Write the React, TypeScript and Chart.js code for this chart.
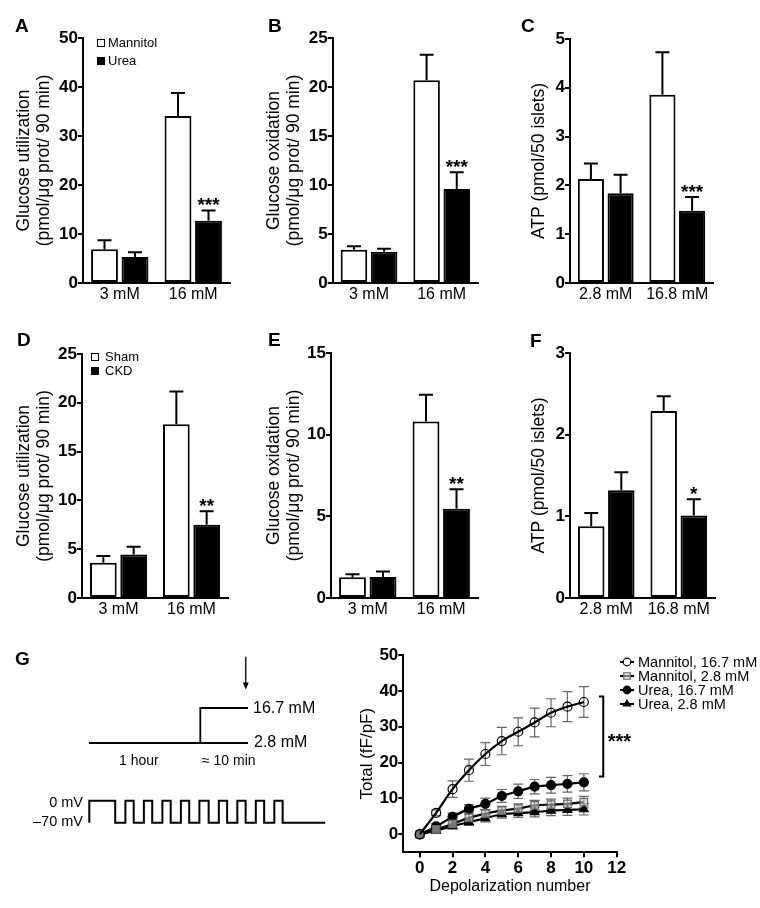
import React, { useEffect, useRef } from 'react';
import { Chart, registerables } from 'chart.js';

Chart.register(...registerables);

const FONT = '"Liberation Sans", Arial, Helvetica, sans-serif';
Chart.defaults.font.family = FONT;
Chart.defaults.color = '#000';

// ---------------- Panels A–F data ----------------
const glucoseCats = ['3 mM', '16 mM'];
const atpCats = ['2.8 mM', '16.8 mM'];

// A
const utilMannitol = [6.9, 34.1];
const utilMannitolErr = [1.8, 4.7];
const utilUrea = [5.3, 12.7];
const utilUreaErr = [1.0, 2.1];
const utilUreaSig = ['', '***'];
// B
const oxMannitol = [3.4, 20.7];
const oxMannitolErr = [0.35, 2.6];
const oxUrea = [3.2, 9.6];
const oxUreaErr = [0.3, 1.7];
const oxUreaSig = ['', '***'];
// C
const atpMannitol = [2.13, 3.86];
const atpMannitolErr = [0.32, 0.87];
const atpUrea = [1.84, 1.48];
const atpUreaErr = [0.38, 0.28];
const atpUreaSig = ['', '***'];
// D
const utilSham = [3.6, 17.8];
const utilShamErr = [0.7, 3.35];
const utilCkd = [4.45, 7.5];
const utilCkdErr = [0.8, 1.4];
const utilCkdSig = ['', '**'];
// E
const oxSham = [1.27, 10.8];
const oxShamErr = [0.18, 1.65];
const oxCkd = [1.29, 5.46];
const oxCkdErr = [0.33, 1.2];
const oxCkdSig = ['', '**'];
// F
const atpSham = [0.88, 2.29];
const atpShamErr = [0.16, 0.18];
const atpCkd = [1.32, 1.01];
const atpCkdErr = [0.22, 0.2];
const atpCkdSig = ['', '*'];

const ticks50 = [0, 10, 20, 30, 40, 50];
const ticks25 = [0, 5, 10, 15, 20, 25];
const ticks5 = [0, 1, 2, 3, 4, 5];
const ticks15 = [0, 5, 10, 15];
const ticks3 = [0, 1, 2, 3];

// ---------------- Panel G kinetics data ----------------
const depolNumber = [0, 1, 2, 3, 4, 5, 6, 7, 8, 9, 10];
const mannitolHigh = [0, 6.0, 12.6, 17.9, 22.4, 26.0, 28.6, 31.2, 33.9, 35.6, 36.9];
const mannitolHighErr = [0, 0.8, 2.3, 3.1, 3.2, 3.8, 3.9, 4.0, 3.9, 4.2, 4.3];
const mannitolLow = [0, 1.4, 2.9, 4.6, 5.8, 6.6, 7.2, 8.1, 8.3, 8.5, 9.0];
const mannitolLowErr = [0, 0.6, 0.9, 1.0, 1.1, 1.2, 1.3, 1.4, 1.5, 1.6, 1.6];
const ureaHigh = [0, 2.2, 4.9, 7.1, 8.5, 10.7, 12.0, 13.3, 13.7, 14.1, 14.5];
const ureaHighErr = [0, 0.8, 1.0, 1.1, 1.6, 1.8, 2.0, 2.0, 2.2, 2.3, 2.4];
const ureaLow = [0, 1.0, 2.3, 3.4, 4.5, 5.6, 5.9, 6.2, 6.6, 6.8, 7.0];
const ureaLowErr = [0, 0.6, 0.8, 0.9, 1.0, 1.1, 1.2, 1.3, 1.4, 1.5, 1.6];
const kinXTicks = [0, 2, 4, 6, 8, 10, 12];
const kinYTicks = [0, 10, 20, 30, 40, 50];
const kinLabels = ['Mannitol, 16.7 mM', 'Mannitol, 2.8 mM', 'Urea, 16.7 mM', 'Urea, 2.8 mM'];
const kinSig = '***';
const kinSigRange = [16.1, 38.4];

// ---------------- Panel G schematic data ----------------
const glucoseLowT = [0, 70];
const glucoseLowC = [2.8, 2.8];
const glucoseHighT = [49, 49, 70];
const glucoseHighC = [2.8, 16.7, 16.7];
const voltageT = [0, 1.4, 1.95, 2.4, 2.95, 3.4, 3.95, 4.4, 4.95, 5.4, 5.95, 6.45, 7.0, 7.45, 8.0, 8.45, 9.0, 9.45, 10.0, 10.45, 11.0, 12.75];
const voltageV = [-70, 0, -70, 0, -70, 0, -70, 0, -70, 0, -70, 0, -70, 0, -70, 0, -70, 0, -70, 0, -70, -70];
const arrowT = 69;
const arrowFromTo = [37, 24];

// ---------------- plugins ----------------
const barErrorPlugin = {
  id: 'barErrors',
  afterDatasetsDraw(chart: any) {
    const { ctx } = chart;
    const yScale = chart.scales.y;
    chart.data.datasets.forEach((ds: any, i: number) => {
      const meta = chart.getDatasetMeta(i);
      meta.data.forEach((bar: any, j: number) => {
        const v = ds.data[j];
        const e = ds.errors ? ds.errors[j] : 0;
        const x = bar.x;
        const y0 = yScale.getPixelForValue(v);
        const y1 = yScale.getPixelForValue(v + e);
        ctx.save();
        ctx.strokeStyle = '#000';
        ctx.lineWidth = 2;
        ctx.beginPath();
        ctx.moveTo(x, y0);
        ctx.lineTo(x, y1);
        ctx.moveTo(x - 7, y1);
        ctx.lineTo(x + 7, y1);
        ctx.stroke();
        const s = ds.sig ? ds.sig[j] : '';
        if (s) {
          ctx.fillStyle = '#000';
          ctx.font = `bold 19px ${FONT}`;
          ctx.textAlign = 'center';
          ctx.textBaseline = 'alphabetic';
          ctx.fillText(s, x, y1 + 1);
        }
        ctx.restore();
      });
    });
  },
};

type Area = { l: number; t: number; r: number; b: number };
type BarPanelProps = {
  left: number;
  top: number;
  width: number;
  height: number;
  area: Area;
  titlePad: number;
  yTitle: string | string[];
  cats: string[];
  ticks: number[];
  white: number[];
  whiteErr: number[];
  black: number[];
  blackErr: number[];
  sig: string[];
};

function BarPanel(p: BarPanelProps) {
  const ref = useRef<HTMLCanvasElement>(null);
  useEffect(() => {
    const chart = new Chart(ref.current as HTMLCanvasElement, {
      type: 'bar',
      data: {
        labels: p.cats,
        datasets: [
          {
            data: p.white,
            errors: p.whiteErr,
            backgroundColor: '#fff',
            borderColor: '#000',
            borderWidth: 2,
            borderSkipped: false,
            categoryPercentage: 0.83,
            barPercentage: 0.88,
          } as any,
          {
            data: p.black,
            errors: p.blackErr,
            sig: p.sig,
            backgroundColor: '#000',
            borderColor: '#000',
            borderWidth: 2,
            borderSkipped: false,
            categoryPercentage: 0.83,
            barPercentage: 0.88,
          } as any,
        ],
      },
      options: {
        responsive: false,
        animation: false,
        devicePixelRatio: 1,
        layout: { padding: { left: 0, top: p.area.t, right: p.width - p.area.r, bottom: 0 } },
        plugins: { legend: { display: false }, tooltip: { enabled: false } },
        scales: {
          x: {
            grid: { drawOnChartArea: false, drawTicks: false, color: '#000' },
            border: { display: true, color: '#000', width: 2 },
            ticks: { font: { family: FONT, size: 16 }, color: '#000', padding: 2.4 },
            afterFit: (s: any) => {
              s.height = p.height - p.area.b;
            },
          },
          y: {
            min: 0,
            max: p.ticks[p.ticks.length - 1],
            afterBuildTicks: (s: any) => {
              s.ticks = p.ticks.map((v) => ({ value: v }));
            },
            grid: { drawOnChartArea: false, drawTicks: true, tickLength: 5, color: '#000', lineWidth: 2 },
            border: { display: true, color: '#000', width: 2 },
            ticks: { font: { family: FONT, size: 17, weight: 'bold' }, color: '#000', padding: 0 },
            title: {
              display: true,
              text: p.yTitle,
              color: '#000',
              font: { family: FONT, size: 17.5, lineHeight: 1.15 },
              padding: { top: p.titlePad, bottom: 0 },
            },
            afterFit: (s: any) => {
              s.width = p.area.l;
            },
          },
        },
      } as any,
      plugins: [barErrorPlugin],
    });
    return () => chart.destroy();
  }, []);
  return (
    <canvas
      ref={ref}
      width={p.width}
      height={p.height}
      style={{ position: 'absolute', left: p.left, top: p.top, width: p.width, height: p.height }}
    />
  );
}

// ---------------- kinetics chart ----------------
const kinSeries = [
  { values: mannitolHigh, errors: mannitolHighErr, style: 'circle', fill: 'rgba(255,255,255,0)', stroke: '#000', r: 4.5 },
  { values: mannitolLow, errors: mannitolLowErr, style: 'rect', fill: 'rgba(200,200,200,0.6)', stroke: '#666', r: 5.3 },
  { values: ureaHigh, errors: ureaHighErr, style: 'circle', fill: '#000', stroke: '#000', r: 4.5 },
  { values: ureaLow, errors: ureaLowErr, style: 'triangle', fill: '#000', stroke: '#000', r: 5 },
];

function drawMarker(ctx: CanvasRenderingContext2D, style: string, x: number, y: number, r: number, fill: string, stroke: string) {
  ctx.save();
  ctx.fillStyle = fill;
  ctx.strokeStyle = stroke;
  ctx.lineWidth = 1.2;
  ctx.beginPath();
  if (style === 'circle') {
    ctx.arc(x, y, r, 0, Math.PI * 2);
  } else if (style === 'rect') {
    const s = r * Math.SQRT1_2;
    ctx.rect(x - s, y - s, 2 * s, 2 * s);
  } else {
    const h = r * 1.5;
    ctx.moveTo(x, y - r);
    ctx.lineTo(x + r * 0.95, y + h - r);
    ctx.lineTo(x - r * 0.95, y + h - r);
    ctx.closePath();
  }
  ctx.fill();
  ctx.stroke();
  ctx.restore();
}

const kinErrorPlugin = {
  id: 'kinErrors',
  beforeDatasetsDraw(chart: any) {
    const { ctx } = chart;
    const xs = chart.scales.x;
    const ys = chart.scales.y;
    ctx.save();
    ctx.strokeStyle = '#666';
    ctx.lineWidth = 1.2;
    chart.data.datasets.forEach((ds: any) => {
      ds.data.forEach((pt: any, j: number) => {
        const e = ds.errors[j];
        if (!e) return;
        const px = xs.getPixelForValue(pt.x);
        const yt = ys.getPixelForValue(pt.y + e);
        const yb = ys.getPixelForValue(pt.y - e);
        ctx.beginPath();
        ctx.moveTo(px, yt);
        ctx.lineTo(px, yb);
        ctx.moveTo(px - 5, yt);
        ctx.lineTo(px + 5, yt);
        ctx.moveTo(px - 5, yb);
        ctx.lineTo(px + 5, yb);
        ctx.stroke();
      });
    });
    ctx.restore();
  },
  afterDraw(chart: any) {
    const { ctx } = chart;
    const xs = chart.scales.x;
    const ys = chart.scales.y;
    // significance bracket
    const bx = xs.getPixelForValue(11.18);
    const bxl = xs.getPixelForValue(10.92);
    const yTop = ys.getPixelForValue(kinSigRange[1]);
    const yBot = ys.getPixelForValue(kinSigRange[0]);
    ctx.save();
    ctx.strokeStyle = '#000';
    ctx.lineWidth = 2;
    ctx.beginPath();
    ctx.moveTo(bxl, yTop);
    ctx.lineTo(bx, yTop);
    ctx.lineTo(bx, yBot);
    ctx.lineTo(bxl, yBot);
    ctx.stroke();
    ctx.fillStyle = '#000';
    ctx.font = `bold 20px ${FONT}`;
    ctx.textAlign = 'left';
    ctx.textBaseline = 'alphabetic';
    ctx.fillText(kinSig, xs.getPixelForValue(11.45), (yTop + yBot) / 2 + 11);
    // legend
    const rows = [22, 36, 50, 64];
    ctx.font = `14.5px ${FONT}`;
    ctx.textBaseline = 'middle';
    kinSeries.forEach((s, i) => {
      const y = rows[i];
      ctx.strokeStyle = '#000';
      ctx.lineWidth = 2;
      ctx.beginPath();
      ctx.moveTo(265, y);
      ctx.lineTo(279, y);
      ctx.stroke();
      drawMarker(ctx, s.style, 272, y, s.style === 'rect' ? 4.6 : 3.8, s.fill === 'rgba(255,255,255,0)' ? '#fff' : s.fill, s.stroke);
      ctx.fillStyle = '#000';
      ctx.fillText(kinLabels[i], 283, y + 0.5);
    });
    ctx.restore();
  },
};

function KineticsChart() {
  const ref = useRef<HTMLCanvasElement>(null);
  const W = 405;
  const H = 268;
  useEffect(() => {
    const chart = new Chart(ref.current as HTMLCanvasElement, {
      type: 'line',
      data: {
        datasets: kinSeries.map((s, i) => ({
          label: kinLabels[i],
          data: depolNumber.map((x, j) => ({ x, y: s.values[j] })),
          errors: s.errors,
          borderColor: '#000',
          borderWidth: 2.2,
          cubicInterpolationMode: 'monotone',
          pointStyle: s.style,
          pointRadius: s.r,
          pointBackgroundColor: s.fill,
          pointBorderColor: s.stroke,
          pointBorderWidth: 1.2,
          clip: false,
        })) as any,
      },
      options: {
        responsive: false,
        animation: false,
        devicePixelRatio: 1,
        layout: { padding: { left: 0, top: 15, right: 143.3, bottom: 0 } },
        plugins: { legend: { display: false }, tooltip: { enabled: false } },
        scales: {
          x: {
            type: 'linear',
            min: -1,
            max: 12,
            afterBuildTicks: (s: any) => {
              s.ticks = kinXTicks.map((v) => ({ value: v }));
            },
            grid: { drawOnChartArea: false, drawTicks: true, tickLength: 5, color: '#000', lineWidth: 2 },
            border: { display: true, color: '#000', width: 2 },
            ticks: { font: { family: FONT, size: 17, weight: 'bold' }, color: '#000', padding: 1 },
            title: {
              display: true,
              text: 'Depolarization number',
              color: '#000',
              font: { family: FONT, size: 16 },
              padding: { top: 0, bottom: 11.4 },
            },
            afterFit: (s: any) => {
              s.height = 55.7;
            },
          },
          y: {
            type: 'linear',
            min: -5,
            max: 50,
            afterBuildTicks: (s: any) => {
              s.ticks = kinYTicks.map((v) => ({ value: v }));
            },
            grid: { drawOnChartArea: false, drawTicks: true, tickLength: 5, color: '#000', lineWidth: 2 },
            border: { display: true, color: '#000', width: 2 },
            ticks: { font: { family: FONT, size: 17, weight: 'bold' }, color: '#000', padding: 0 },
            title: {
              display: true,
              text: 'Total (fF/pF)',
              color: '#000',
              font: { family: FONT, size: 17 },
              padding: { top: 2, bottom: 0 },
            },
            afterFit: (s: any) => {
              s.width = 48.3;
            },
          },
        },
      } as any,
      plugins: [kinErrorPlugin],
    });
    return () => chart.destroy();
  }, []);
  return (
    <canvas ref={ref} width={W} height={H} style={{ position: 'absolute', left: 355, top: 640, width: W, height: H }} />
  );
}

// ---------------- schematic ----------------
const arrowPlugin = {
  id: 'arrow',
  afterDatasetsDraw(chart: any) {
    const { ctx } = chart;
    const x = chart.scales.xG.getPixelForValue(arrowT);
    const y0 = chart.scales.yG.getPixelForValue(arrowFromTo[0]);
    const y1 = chart.scales.yG.getPixelForValue(arrowFromTo[1]);
    ctx.save();
    ctx.strokeStyle = '#000';
    ctx.fillStyle = '#000';
    ctx.lineWidth = 1.3;
    ctx.beginPath();
    ctx.moveTo(x, y0);
    ctx.lineTo(x, y1 - 4);
    ctx.stroke();
    ctx.beginPath();
    ctx.moveTo(x, y1);
    ctx.lineTo(x - 3, y1 - 7);
    ctx.lineTo(x + 3, y1 - 7);
    ctx.closePath();
    ctx.fill();
    ctx.restore();
  },
};

function Schematic() {
  const ref = useRef<HTMLCanvasElement>(null);
  useEffect(() => {
    const line = { borderColor: '#000', borderWidth: 1.8, pointRadius: 0, fill: false, clip: false };
    const chart = new Chart(ref.current as HTMLCanvasElement, {
      type: 'line',
      data: {
        datasets: [
          { ...line, xAxisID: 'xG', yAxisID: 'yG', data: glucoseLowT.map((t, i) => ({ x: t, y: glucoseLowC[i] })) },
          { ...line, xAxisID: 'xG', yAxisID: 'yG', data: glucoseHighT.map((t, i) => ({ x: t, y: glucoseHighC[i] })) },
          {
            ...line,
            borderWidth: 2,
            stepped: 'after',
            xAxisID: 'xV',
            yAxisID: 'yV',
            data: voltageT.map((t, i) => ({ x: t, y: voltageV[i] })),
          },
        ] as any,
      },
      options: {
        responsive: false,
        animation: false,
        devicePixelRatio: 1,
        layout: { padding: 0 },
        plugins: { legend: { display: false }, tooltip: { enabled: false } },
        scales: {
          xG: { type: 'linear', axis: 'x', display: false, min: -39.18, max: 110.5 },
          yG: { type: 'linear', axis: 'y', display: false, min: -35.72, max: 43.7 },
          xV: { type: 'linear', axis: 'x', display: false, min: -4.827, max: 13.55 },
          yV: { type: 'linear', axis: 'y', display: false, min: -125.04, max: 511.3 },
        },
      } as any,
      plugins: [arrowPlugin],
    });
    return () => chart.destroy();
  }, []);
  return <canvas ref={ref} width={340} height={200} style={{ position: 'absolute', left: 0, top: 640, width: 340, height: 200 }} />;
}

// ---------------- text helpers ----------------
function Txt(props: { x: number; y: number; text: string; size: number; bold?: boolean; align?: 'left' | 'right' }) {
  const { x, y, text, size, bold, align = 'left' } = props;
  const style: React.CSSProperties = {
    position: 'absolute',
    top: y - 0.6 * size,
    fontSize: size,
    lineHeight: `${1.2 * size}px`,
    fontWeight: bold ? 700 : 400,
    whiteSpace: 'nowrap',
    fontFamily: FONT,
    color: '#000',
  };
  if (align === 'right') style.right = 760 - x;
  else style.left = x;
  return <div style={style}>{text}</div>;
}

function LegendBox(props: { x: number; y: number; filled: boolean }) {
  return (
    <div
      style={{
        position: 'absolute',
        left: props.x,
        top: props.y,
        width: 8,
        height: 8,
        boxSizing: 'border-box',
        border: '1.5px solid #000',
        background: props.filled ? '#000' : '#fff',
      }}
    />
  );
}

const utilTitle = ['Glucose utilization', '(pmol/μg prot/ 90 min)'];
const oxTitle = ['Glucose oxidation', '(pmol/μg prot/ 90 min)'];
const atpTitle = 'ATP (pmol/50 islets)';

export default function App() {
  return (
    <div
      style={{
        position: 'absolute',
        left: 0,
        top: 0,
        width: 760,
        height: 908,
        background: '#fff',
        overflow: 'hidden',
        fontFamily: FONT,
      }}
    >
      <BarPanel left={0} top={0} width={250} height={310} area={{ l: 83, t: 38, r: 230, b: 283 }} titlePad={14}
        yTitle={utilTitle} cats={glucoseCats} ticks={ticks50}
        white={utilMannitol} whiteErr={utilMannitolErr} black={utilUrea} blackErr={utilUreaErr} sig={utilUreaSig} />
      <BarPanel left={250} top={0} width={250} height={310} area={{ l: 82.7, t: 38, r: 228, b: 283 }} titlePad={14}
        yTitle={oxTitle} cats={glucoseCats} ticks={ticks25}
        white={oxMannitol} whiteErr={oxMannitolErr} black={oxUrea} blackErr={oxUreaErr} sig={oxUreaSig} />
      <BarPanel left={500} top={0} width={250} height={310} area={{ l: 70, t: 39, r: 213, b: 283 }} titlePad={29.6}
        yTitle={atpTitle} cats={atpCats} ticks={ticks5}
        white={atpMannitol} whiteErr={atpMannitolErr} black={atpUrea} blackErr={atpUreaErr} sig={atpUreaSig} />
      <BarPanel left={0} top={315} width={250} height={310} area={{ l: 82, t: 39, r: 228, b: 283 }} titlePad={14}
        yTitle={utilTitle} cats={glucoseCats} ticks={ticks25}
        white={utilSham} whiteErr={utilShamErr} black={utilCkd} blackErr={utilCkdErr} sig={utilCkdSig} />
      <BarPanel left={250} top={315} width={250} height={310} area={{ l: 81, t: 38, r: 228, b: 283 }} titlePad={14}
        yTitle={oxTitle} cats={glucoseCats} ticks={ticks15}
        white={oxSham} whiteErr={oxShamErr} black={oxCkd} blackErr={oxCkdErr} sig={oxCkdSig} />
      <BarPanel left={500} top={315} width={250} height={310} area={{ l: 70, t: 38, r: 215, b: 283 }} titlePad={29.6}
        yTitle={atpTitle} cats={atpCats} ticks={ticks3}
        white={atpSham} whiteErr={atpShamErr} black={atpCkd} blackErr={atpCkdErr} sig={atpCkdSig} />

      <Schematic />
      <KineticsChart />

      {/* panel letters */}
      <Txt x={15} y={26} text="A" size={19} bold />
      <Txt x={268} y={26} text="B" size={19} bold />
      <Txt x={521} y={26} text="C" size={19} bold />
      <Txt x={17} y={340} text="D" size={19} bold />
      <Txt x={268} y={340} text="E" size={19} bold />
      <Txt x={530} y={341} text="F" size={19} bold />
      <Txt x={15} y={659} text="G" size={19} bold />

      {/* legends A and D */}
      <LegendBox x={97} y={39} filled={false} />
      <Txt x={108} y={43} text="Mannitol" size={13} />
      <LegendBox x={97} y={57} filled />
      <Txt x={108} y={61} text="Urea" size={13} />
      <LegendBox x={91} y={353} filled={false} />
      <Txt x={105} y={357} text="Sham" size={13} />
      <LegendBox x={91} y={367} filled />
      <Txt x={105} y={371} text="CKD" size={13} />

      {/* schematic labels */}
      <Txt x={253} y={708} text="16.7 mM" size={16} />
      <Txt x={254} y={742} text="2.8 mM" size={16} />
      <Txt x={119} y={760} text="1 hour" size={14} />
      <Txt x={202} y={760} text="≈ 10 min" size={14} />
      <Txt x={83} y={803} text="0 mV" size={14.5} align="right" />
      <Txt x={83} y={822} text="–70 mV" size={14.5} align="right" />
    </div>
  );
}
